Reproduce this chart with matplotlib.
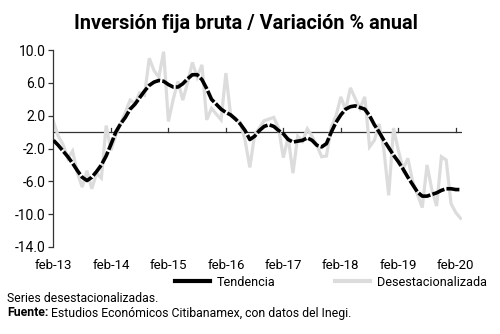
import matplotlib
matplotlib.use("Agg")
import matplotlib.pyplot as plt
from matplotlib.lines import Line2D
import numpy as np

plt.rcParams['font.family'] = ['Roboto', 'DejaVu Sans']

# Monthly series, feb-2013 .. mar-2020
desestacionalizada = [
    1.3, -0.5, -1.5, -3.2, -2.3, -5.0, -6.7, -4.7, -6.9, -5.0,
    -5.6, 0.8, -2.2, -0.4, 1.0, 2.4, 3.9, 3.5, 4.8, 4.5,
    9.0, 7.5, 6.7, 9.8, 1.3, 4.0, 6.2, 3.9, 6.0, 8.5,
    6.7, 8.2, 1.5, 2.9, 2.2, 1.5, 7.2, 2.0, 1.5, 1.2,
    -1.0, -4.3, -0.3, 0.5, 1.4, 1.6, 1.8, 0.5, -3.1, -0.6,
    -5.0, -0.5, -1.1, 0.4, -0.5, -1.6, -3.0, -2.9, 0.6, 2.0,
    4.3, 2.7, 5.4, 4.1, 2.9, 4.3, -1.8, -1.0, 1.0, -2.2,
    -7.7, 0.5, -2.2, -4.5, -3.2, -6.0, -7.6, -9.2, -4.0, -7.0,
    -9.0, -3.0, -3.4, -8.7, -9.8, -10.5,
]
tendencia = [
    -1.0, -1.6, -2.3, -3.0, -3.8, -4.7, -5.5, -5.9, -5.5, -4.8,
    -4.0, -2.9, -1.5, 0.0, 1.0, 1.8, 2.8, 3.4, 4.2, 5.0,
    5.7, 6.1, 6.3, 6.2, 5.8, 5.5, 5.5, 5.9, 6.5, 7.0,
    7.0, 6.4, 5.3, 4.0, 3.4, 2.8, 2.4, 2.1, 1.6, 1.0,
    0.2, -0.9, -0.5, 0.2, 0.7, 0.9, 0.7, 0.2, -0.2, -0.9,
    -1.2, -1.1, -1.0, -0.7, -1.0, -1.6, -1.8, -1.4, 0.0, 1.2,
    2.1, 2.8, 3.1, 3.2, 3.0, 2.8, 2.0, 0.9, 0.0, -1.0,
    -1.9, -2.8, -3.6, -4.5, -5.5, -6.4, -7.3, -7.8, -7.8, -7.6,
    -7.4, -7.1, -6.9, -6.9, -7.0, -7.0,
]
tick_labels = ['feb-13', 'feb-14', 'feb-15', 'feb-16', 'feb-17', 'feb-18', 'feb-19', 'feb-20']
y_ticks = [10, 6, 2, -2, -6, -10, -14]

x = np.arange(len(desestacionalizada))

fig = plt.figure(figsize=(5.0, 3.34), dpi=100)
ax = fig.add_axes([0.106, 0.2605, 0.818, 0.5895])

gray = '#dcdcdc'
ax.plot(x, desestacionalizada, color=gray, lw=2.3, solid_joinstyle='miter', zorder=2)
ax.plot(np.arange(len(tendencia)), tendencia, color='black', lw=2.6,
        dashes=(3.6, 0.6), zorder=3)
ax.axhline(0, color='#333333', lw=0.9, zorder=1)

tick_pos = np.arange(0, 12 * len(tick_labels), 12)
for p in tick_pos[1:]:
    ax.plot([p, p], [0, 0.45], color='#333333', lw=0.9, zorder=1)

ax.set_xlim(-0.1, 85.3)
ax.set_ylim(-14, 10)
ax.set_yticks(y_ticks)
ax.set_yticklabels([f'{v:.1f}' for v in y_ticks])
ax.set_xticks(tick_pos)
ax.set_xticklabels(tick_labels)
ax.tick_params(axis='x', length=0, pad=9, labelsize=9.5)
ax.tick_params(axis='y', length=3.5, width=0.9, pad=2, labelsize=10, color='#333333')
for s in ['top', 'right', 'bottom']:
    ax.spines[s].set_visible(False)
ax.spines['left'].set_color('#333333')
ax.spines['left'].set_linewidth(0.9)

fig.text(0.492, 0.930, 'Inversión fija bruta / Variación % anual', ha='center', va='center',
         fontsize=14.3, fontweight='bold')

handles = [Line2D([0], [0], color='black', lw=3.0),
           Line2D([0], [0], color=gray, lw=3.0)]
fig.legend(handles, ['Tendencia', 'Desestacionalizada'], loc='center left',
           bbox_to_anchor=(0.350, 1 - 282 / 334), ncol=2, frameon=False,
           fontsize=9.1, handlelength=2.8, handletextpad=0.5, columnspacing=4.7,
           borderpad=0, borderaxespad=0)

fig.text(0.014, 1 - 299 / 334, 'Series desestacionalizadas.', ha='left', va='center', fontsize=8.8)
t1 = fig.text(0.014, 1 - 313 / 334, 'Fuente:', ha='left', va='center', fontsize=8.8, fontweight='bold')
fig.canvas.draw()
bb = t1.get_window_extent(renderer=fig.canvas.get_renderer())
x2 = bb.x1 / fig.bbox.width + 0.005
fig.text(x2, 1 - 313 / 334, 'Estudios Económicos Citibanamex, con datos del Inegi.',
         ha='left', va='center', fontsize=8.8)

fig.savefig('out.png', dpi=100)
